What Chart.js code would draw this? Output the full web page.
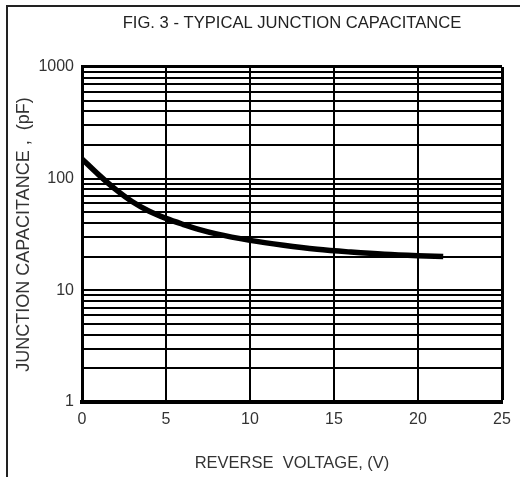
<!DOCTYPE html>
<html>
<head>
<meta charset="utf-8">
<script src="https://cdn.jsdelivr.net/npm/chart.js@4"></script>
<style>
    body { margin: 0; background: #fff; }
    #wrap { position: relative; width: 520px; height: 477px; }
    #frame { position: absolute; left: 6px; top: 5px; right: -4px; bottom: -4px; border-left: 2px solid #222; border-top: 2px solid #222; }
    #myChart { position: absolute; left: 0; top: 0; }
</style>
</head>
<body>
<div id="wrap">
    <div id="frame"></div>
    <canvas id="myChart" width="520" height="477"></canvas>
</div>
<script>
// reverse voltage (V) and junction capacitance (pF)
const voltage = [0, 1, 2, 3, 4, 5, 6, 7, 8, 10, 12, 14, 16, 18, 20, 21.5];
const capacitance = [150, 108, 80, 62, 51, 44, 39, 35, 32, 28, 25.3, 23.3, 22, 21, 20.4, 20.1];

const xTicks = [0, 5, 10, 15, 20, 25];
const yDecades = [1, 10, 100, 1000];

const fontFam = "'Liberation Sans', Arial, sans-serif";

let points = [];
for (let i = 0; i < voltage.length; i++) {
    points.push({ x: voltage[i], y: capacitance[i] });
}

const ctx = document.getElementById('myChart');

const myChart = new Chart(ctx, {
    type: 'line',
    data: {
        datasets: [{
            label: 'Junction Capacitance',
            data: points,
            borderColor: '#000',
            borderWidth: 5.5,
            pointRadius: 0,
            cubicInterpolationMode: 'monotone',
            fill: false
        }]
    },
    options: {
        responsive: false,
        animation: false,
        layout: {
            padding: { left: 10, right: 18, top: 0, bottom: 4 }
        },
        scales: {
            x: {
                type: 'linear',
                min: 0,
                max: 25,
                afterBuildTicks: function (scale) {
                    scale.ticks = xTicks.map(v => ({ value: v }));
                },
                afterFit: function (scale) {
                    scale.height = 71;
                },
                grid: {
                    color: '#000',
                    lineWidth: function (c) { return c.index === xTicks.length - 1 ? 3 : 2; },
                    drawTicks: false
                },
                border: { color: '#000', width: 4 },
                ticks: {
                    color: '#333',
                    padding: 8,
                    font: { family: fontFam, size: 16 }
                },
                title: {
                    display: true,
                    text: 'REVERSE  VOLTAGE, (V)',
                    color: '#333',
                    padding: { top: 14, bottom: 0 },
                    font: { family: fontFam, size: 16.5 }
                }
            },
            y: {
                type: 'logarithmic',
                min: 1,
                max: 1000,
                afterBuildTicks: function (scale) {
                    let t = [];
                    for (let d = 0; d < yDecades.length - 1; d++) {
                        for (let k = 1; k < 10; k++) {
                            t.push({ value: yDecades[d] * k });
                        }
                    }
                    t.push({ value: yDecades[yDecades.length - 1] });
                    scale.ticks = t;
                },
                afterFit: function (scale) {
                    scale.width = 72;
                },
                grid: {
                    color: '#000',
                    lineWidth: function (c) { return c.index === 27 ? 3 : 2; },
                    drawTicks: false
                },
                border: { color: '#000', width: 3 },
                ticks: {
                    color: '#333',
                    padding: 8,
                    autoSkip: false,
                    font: { family: fontFam, size: 16 },
                    callback: function (v) {
                        return yDecades.includes(v) ? String(v) : '';
                    }
                },
                title: {
                    display: true,
                    text: 'JUNCTION CAPACITANCE ,  (pF)',
                    color: '#333',
                    padding: { top: 3, bottom: 0 },
                    font: { family: fontFam, size: 18 }
                }
            }
        },
        plugins: {
            legend: { display: false },
            tooltip: { enabled: false },
            title: {
                display: true,
                fullSize: false,
                text: 'FIG. 3 - TYPICAL JUNCTION CAPACITANCE',
                color: '#222',
                padding: { top: 13, bottom: 34 },
                font: { family: fontFam, size: 16.6, weight: 'normal' }
            }
        }
    }
});
</script>
</body>
</html>
